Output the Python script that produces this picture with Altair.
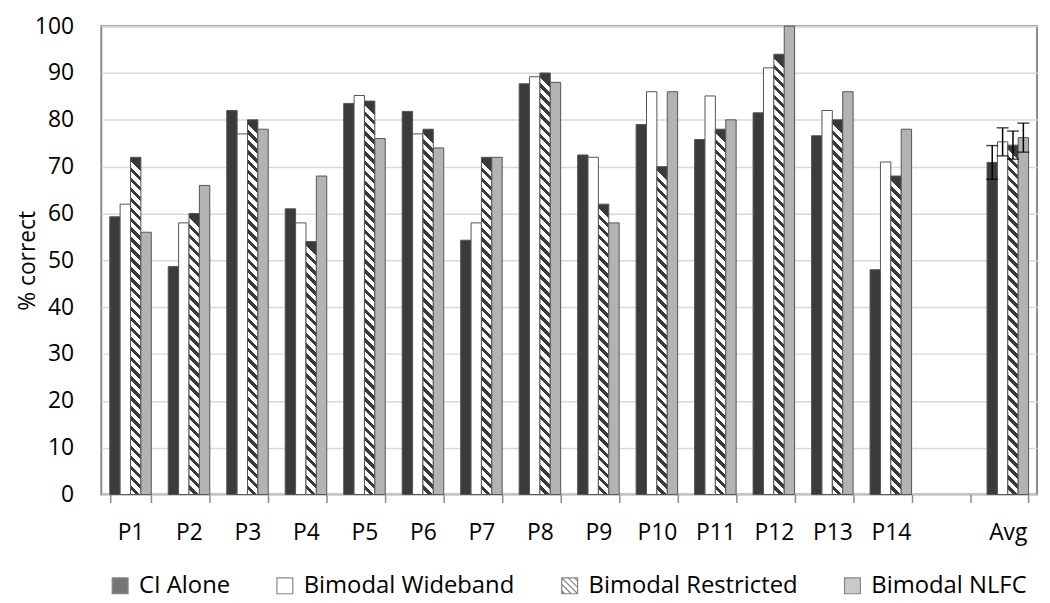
import altair as alt
import pandas as pd

# ---------------- data ----------------
categories = ["P1", "P2", "P3", "P4", "P5", "P6", "P7", "P8", "P9", "P10",
              "P11", "P12", "P13", "P14", " ", "Avg"]
bar_cats = ["P1", "P2", "P3", "P4", "P5", "P6", "P7", "P8", "P9", "P10",
            "P11", "P12", "P13", "P14", "Avg"]
series = ["CI Alone", "Bimodal Wideband", "Bimodal Restricted", "Bimodal NLFC"]

ci_alone = [59.3, 48.7, 82, 61, 83.5, 81.8, 54.3, 87.7, 72.5, 79, 75.8, 81.5, 76.6, 48, 70.9]
wideband = [62, 58, 77, 58, 85.2, 77, 58, 89.2, 72, 86, 85.1, 91.1, 82, 71, 75.3]
restricted = [72, 60, 80, 54, 84, 78, 72, 90, 62, 70, 78, 94, 80, 68, 74.6]
nlfc = [56, 66, 78, 68, 76, 74, 72, 88, 58, 86, 80, 100, 86, 78, 76.2]
avg_err = [3.6, 3.0, 3.0, 3.1]

values = {"CI Alone": ci_alone, "Bimodal Wideband": wideband,
          "Bimodal Restricted": restricted, "Bimodal NLFC": nlfc}

rows = []
for s in series:
    for c, v in zip(bar_cats, values[s]):
        rows.append({"cat": c, "series": s, "value": v})
df = pd.DataFrame(rows)

err_rows = []
for s, e in zip(series, avg_err):
    v = values[s][-1]
    err_rows.append({"cat": "Avg", "series": s, "value": v, "lo": v - e, "hi": v + e})
df_err = pd.DataFrame(err_rows)

# ---------------- style ----------------
W, H = 943, 472
DARK = "#3b3b3b"
STRIPE = "#3a3a3a"
FONT = "Open Sans"


def hatch(value):
    bar_w = W / len(categories) * 0.71 / 4
    h = value / 100 * H
    n = max(1, round(h / 10))
    a = bar_w / h
    stops = []
    for k in range(n):
        stops += [{"offset": k / n, "color": STRIPE},
                  {"offset": (k + 0.45) / n, "color": STRIPE},
                  {"offset": (k + 0.45) / n, "color": "#ffffff"},
                  {"offset": (k + 1) / n, "color": "#ffffff"}]
    return {"gradient": "linear", "x1": a, "y1": 0, "x2": 0, "y2": 1, "stops": stops}


conds = []
for c, v in zip(bar_cats, restricted):
    conds.append({"test": f"datum.series === 'Bimodal Restricted' && datum.cat === '{c}'",
                  "value": hatch(v)})

SQUARE = "M-1,-1H1V1H-1Z"
HATCHED = ("M-1,-1H1V1H-1Z M-1,-1L1,1 M-0.2,-1L1,0.2 M0.6,-1L1,-0.6 "
           "M-1,-0.2L0.2,1 M-1,0.6L-0.6,1")

fill_scale = alt.Scale(domain=series, range=[DARK, "#ffffff", "#ffffff", "#b3b3b3"])
legend = alt.Legend(title=None, orient="none", direction="horizontal",
                    legendX=7, legendY=552, symbolType="square",
                    symbolSize=256, symbolStrokeColor="#555555",
                    symbolStrokeWidth=1.2, labelFontSize=24, labelColor="black",
                    labelOffset=7, columnPadding=43, labelLimit=400, padding=0)

x_enc = alt.X("cat:N", scale=alt.Scale(domain=categories, paddingInner=0.29, paddingOuter=0.145),
              axis=alt.Axis(labelAngle=0, labelFontSize=23, labelColor="black", tickBand="extent",
                            ticks=True, tickSize=8, tickColor="#8a8a8a", tickWidth=1.5,
                            domain=False, grid=False, labelPadding=19),
              title=None)
xo_enc = alt.XOffset("series:N", scale=alt.Scale(domain=series, paddingInner=0, paddingOuter=0))
y_scale = alt.Scale(domain=[0, 100], nice=False)

bars = alt.Chart(df).mark_bar(stroke="#555555", strokeWidth=1).encode(
    x=x_enc,
    xOffset=xo_enc,
    y=alt.Y("value:Q", scale=y_scale,
            axis=alt.Axis(values=list(range(0, 101, 10)), grid=True, gridColor="#d9d9d9",
                          gridWidth=1.5, ticks=False, domain=False, labelFontSize=23,
                          labelColor="black", labelPadding=28, titleFontSize=23,
                          titleFontWeight="normal", titleColor="black",
                          titleX=-62, titleY=H / 2),
            title="% correct"),
    fill=alt.Fill("series:N", scale=fill_scale, legend=legend, condition=conds),
)

# empty layer that only contributes the legend symbol shapes
legend_layer = alt.Chart(df).transform_filter("false").mark_point(filled=True).encode(
    x=x_enc, xOffset=xo_enc, y=alt.Y("value:Q", scale=y_scale),
    fill=alt.Fill("series:N", scale=fill_scale, legend=legend),
    shape=alt.Shape("series:N",
                    scale=alt.Scale(domain=series, range=[SQUARE, SQUARE, HATCHED, SQUARE]),
                    legend=legend),
)

err_rule = alt.Chart(df_err).mark_rule(color="black", strokeWidth=1.5).encode(
    x=x_enc, xOffset=xo_enc,
    y=alt.Y("lo:Q", scale=y_scale), y2="hi:Q")
err_lo = alt.Chart(df_err).mark_tick(color="black", thickness=1.5, size=12).encode(
    x=x_enc, xOffset=xo_enc, y=alt.Y("lo:Q", scale=y_scale))
err_hi = alt.Chart(df_err).mark_tick(color="black", thickness=1.5, size=12).encode(
    x=x_enc, xOffset=xo_enc, y=alt.Y("hi:Q", scale=y_scale))

chart = alt.layer(bars, legend_layer, err_rule, err_lo, err_hi).properties(
    width=W, height=H,
    autosize=alt.AutoSizeParams(type="none"),
    padding={"left": 94, "top": 16, "right": 5, "bottom": 107},
).configure(font=FONT).configure_view(stroke="#8a8a8a", strokeWidth=2)

chart.save("out.html", embed_options={"renderer": "svg", "actions": False})
